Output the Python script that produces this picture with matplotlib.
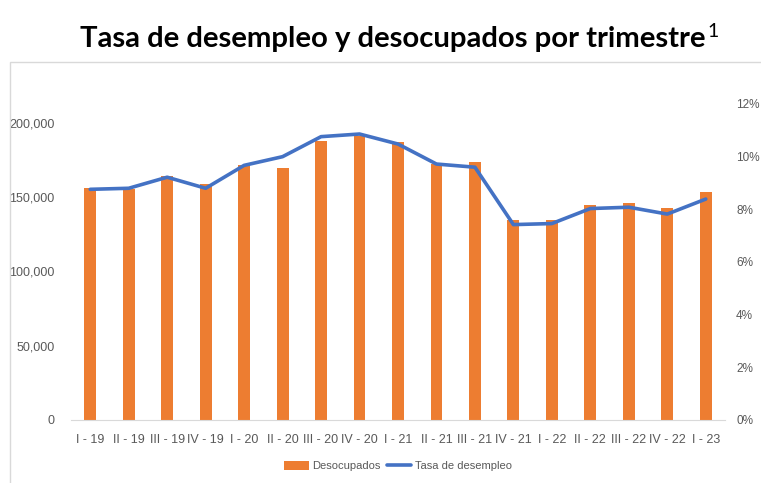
import matplotlib
matplotlib.use("Agg")
import matplotlib.pyplot as plt
from matplotlib.patches import Rectangle
from matplotlib.ticker import FuncFormatter, MultipleLocator

# datos por trimestre
trimestres = ["I - 19", "II - 19", "III - 19", "IV - 19", "I - 20", "II - 20",
              "III - 20", "IV - 20", "I - 21", "II - 21", "III - 21", "IV - 21",
              "I - 22", "II - 22", "III - 22", "IV - 22", "I - 23"]
desocupados = [155900, 155600, 164000, 159000, 171800, 169600, 187700, 191300,
               186900, 172300, 173600, 134400, 134400, 144900, 145800, 142900,
               153600]
tasa = [0.0876, 0.0880, 0.0922, 0.0880, 0.0967, 0.1000, 0.1076, 0.1086,
        0.1048, 0.0972, 0.0960, 0.0742, 0.0746, 0.0803, 0.0808, 0.0782,
        0.0839]

FUENTE = ["Liberation Sans", "DejaVu Sans"]
TITULO = ["Lato", "DejaVu Sans"]
GRIS = "#595959"
NARANJA = "#ED7D31"
AZUL = "#4472C4"

plt.rcParams["font.family"] = FUENTE

fig = plt.figure(figsize=(7.61, 4.83), dpi=100)

# marco del grafico
fig.patches.append(Rectangle((10 / 761, -0.01), 1.0, 1 - 62 / 483 + 0.01,
                             transform=fig.transFigure, fill=False,
                             edgecolor="#D9D9D9", linewidth=1.0))

ax = fig.add_axes([71 / 761, 1 - 420 / 483, (725 - 71) / 761, (420 - 104) / 483])
ax2 = ax.twinx()

x = range(len(trimestres))
ax.bar(x, desocupados, width=0.31, color=NARANJA, label="Desocupados", zorder=2)
ax2.plot(x, tasa, color=AZUL, linewidth=2.6, label="Tasa de desempleo",
         solid_capstyle="round", zorder=3)

ax.set_xlim(-0.5, len(trimestres) - 0.5)
ax.set_ylim(0, 212700)
ax2.set_ylim(0, 0.12)
ax.yaxis.set_major_locator(MultipleLocator(50000))
ax.yaxis.set_major_formatter(FuncFormatter(lambda v, p: f"{int(v):,}"))
ax2.yaxis.set_major_locator(MultipleLocator(0.02))
ax2.yaxis.set_major_formatter(FuncFormatter(lambda v, p: f"{v * 100:.0f}%"))

ax.set_xticks(list(x))
ax.set_xticklabels(trimestres)

for a in (ax, ax2):
    for s in a.spines.values():
        s.set_visible(False)
    a.tick_params(length=0, colors=GRIS, labelsize=9)
ax.spines["bottom"].set_visible(True)
ax.spines["bottom"].set_color("#D9D9D9")
ax.tick_params(axis="x", pad=10)
ax.tick_params(axis="y", pad=12)
ax2.tick_params(axis="y", pad=8, labelsize=8.5)

# leyenda
h1, l1 = ax.get_legend_handles_labels()
h2, l2 = ax2.get_legend_handles_labels()
fig.legend(h1 + h2, l1 + l2, loc="center", bbox_to_anchor=(398 / 761, 1 - 466 / 483),
           ncol=2, frameon=False, prop={"size": 8},
           labelcolor=GRIS, handlelength=2.2, handleheight=0.9,
           columnspacing=0.6, handletextpad=0.3)

# titulo con superindice, ajustado al ancho del original
titulo = fig.text(80 / 761, 1 - 47 / 483, "Tasa de desempleo y desocupados por trimestre",
                  fontsize=21, fontweight="bold", family=TITULO,
                  ha="left", va="baseline", color="black")
r = fig.canvas.get_renderer()
ancho = titulo.get_window_extent(r).width
titulo.set_fontsize(21 * 625 / ancho)
fin = titulo.get_window_extent(r).x1
fig.text((fin + 2) / 761, 1 - 37 / 483, "1", fontsize=14,
         family=TITULO, ha="left", va="baseline")

fig.savefig("out.png", dpi=100)
